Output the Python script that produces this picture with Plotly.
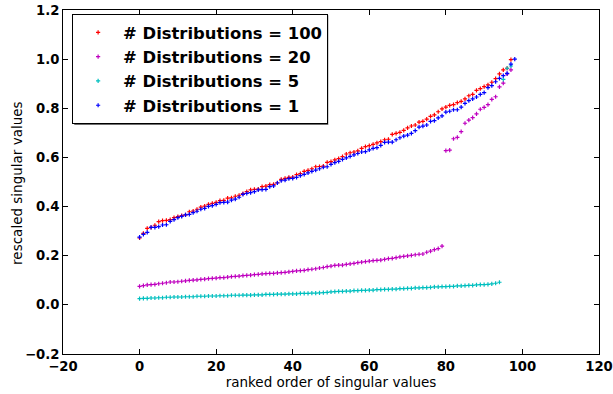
import plotly.graph_objects as go

labels = ["# Distributions = 100", "# Distributions = 20", "# Distributions = 5", "# Distributions = 1"]
colors = ["#ff0000", "#bf00bf", "#00bfbf", "#0000ff"]

red = [0.272, 0.291, 0.311, 0.315, 0.324, 0.339, 0.343, 0.344, 0.347, 0.355,
       0.359, 0.363, 0.366, 0.379, 0.382, 0.389, 0.398, 0.402, 0.409, 0.413,
       0.417, 0.424, 0.425, 0.434, 0.435, 0.442, 0.446, 0.453, 0.461, 0.468,
       0.470, 0.471, 0.481, 0.483, 0.489, 0.490, 0.497, 0.511, 0.515, 0.519,
       0.520, 0.530, 0.534, 0.543, 0.547, 0.554, 0.562, 0.563, 0.565, 0.580,
       0.583, 0.590, 0.595, 0.603, 0.614, 0.619, 0.622, 0.627, 0.637, 0.644,
       0.648, 0.653, 0.659, 0.664, 0.672, 0.674, 0.694, 0.698, 0.702, 0.710,
       0.720, 0.728, 0.732, 0.744, 0.747, 0.756, 0.767, 0.773, 0.786, 0.798,
       0.805, 0.812, 0.815, 0.823, 0.828, 0.838, 0.851, 0.857, 0.873, 0.880,
       0.888, 0.895, 0.906, 0.921, 0.940, 0.956, 0.963, 0.998]

magenta = [0.075, 0.078, 0.081, 0.082, 0.083, 0.086, 0.088, 0.090, 0.093, 0.093,
           0.094, 0.096, 0.098, 0.100, 0.101, 0.102, 0.104, 0.105, 0.107, 0.108,
           0.109, 0.111, 0.111, 0.113, 0.115, 0.116, 0.117, 0.119, 0.120, 0.121,
           0.123, 0.124, 0.126, 0.127, 0.128, 0.128, 0.130, 0.131, 0.132, 0.134,
           0.136, 0.138, 0.139, 0.140, 0.143, 0.145, 0.147, 0.150, 0.152, 0.156,
           0.158, 0.161, 0.162, 0.162, 0.165, 0.167, 0.169, 0.172, 0.174, 0.176,
           0.178, 0.180, 0.181, 0.182, 0.185, 0.188, 0.189, 0.192, 0.195, 0.197,
           0.199, 0.201, 0.204, 0.206, 0.207, 0.214, 0.219, 0.225, 0.229, 0.239,
           0.628, 0.630, 0.676, 0.682, 0.705, 0.739, 0.752, 0.762, 0.777, 0.796,
           0.804, 0.815, 0.836, 0.847, 0.887, 0.902, 0.940, 0.956]

cyan = [0.025, 0.026, 0.026, 0.028, 0.028, 0.029, 0.029, 0.031, 0.031, 0.032,
        0.032, 0.032, 0.033, 0.033, 0.033, 0.035, 0.035, 0.035, 0.036, 0.036,
        0.036, 0.037, 0.037, 0.037, 0.039, 0.039, 0.039, 0.040, 0.040, 0.040,
        0.041, 0.041, 0.041, 0.043, 0.043, 0.043, 0.044, 0.044, 0.044, 0.045,
        0.045, 0.045, 0.047, 0.047, 0.047, 0.048, 0.048, 0.049, 0.050, 0.051,
        0.053, 0.054, 0.055, 0.055, 0.056, 0.056, 0.058, 0.058, 0.059, 0.059,
        0.060, 0.060, 0.062, 0.062, 0.063, 0.063, 0.064, 0.064, 0.066, 0.066,
        0.067, 0.067, 0.069, 0.069, 0.070, 0.070, 0.071, 0.073, 0.073, 0.074,
        0.074, 0.075, 0.075, 0.077, 0.077, 0.078, 0.079, 0.079, 0.081, 0.082,
        0.082, 0.083, 0.085, 0.088, 0.092, 0.918, 0.963, 0.972]

blue = [0.276, 0.287, 0.295, 0.315, 0.315, 0.318, 0.325, 0.326, 0.340, 0.347,
        0.355, 0.360, 0.366, 0.368, 0.375, 0.381, 0.389, 0.393, 0.401, 0.404,
        0.409, 0.416, 0.417, 0.418, 0.426, 0.430, 0.438, 0.450, 0.454, 0.457,
        0.461, 0.468, 0.469, 0.470, 0.481, 0.484, 0.496, 0.505, 0.508, 0.514,
        0.515, 0.519, 0.526, 0.531, 0.537, 0.543, 0.548, 0.554, 0.560, 0.562,
        0.572, 0.579, 0.584, 0.592, 0.598, 0.604, 0.610, 0.616, 0.622, 0.624,
        0.631, 0.637, 0.640, 0.649, 0.661, 0.662, 0.662, 0.672, 0.680, 0.687,
        0.691, 0.698, 0.709, 0.723, 0.727, 0.732, 0.747, 0.750, 0.761, 0.769,
        0.784, 0.788, 0.794, 0.794, 0.805, 0.820, 0.831, 0.838, 0.846, 0.857,
        0.864, 0.884, 0.892, 0.908, 0.922, 0.933, 0.942, 0.980, 1.000]

x_ticks = [-20, 0, 20, 40, 60, 80, 100, 120]
y_ticks = [-0.2, 0.0, 0.2, 0.4, 0.6, 0.8, 1.0, 1.2]
x_title = "ranked order of singular values"
y_title = "rescaled singular values"

series = [red, magenta, cyan, blue]

fig = go.Figure()
for name, col, vals in zip(labels, colors, series):
    fig.add_trace(go.Scatter(
        x=list(range(len(vals))), y=vals, mode="markers", name=name,
        marker=dict(symbol="cross-thin", size=3, color=col,
                    line=dict(color=col, width=1.2)),
    ))

font_family = "DejaVu Sans"
axis_common = dict(
    showgrid=False, zeroline=False, showline=True, linecolor="black", linewidth=1,
    mirror="ticks", ticks="inside", ticklen=5, tickcolor="black", tickwidth=1,
    automargin=False, ticklabeloverflow="allow",
    tickfont=dict(family=font_family, size=13.2, color="black", weight="bold"),
)

fig.update_layout(
    width=613, height=394,
    margin=dict(l=63, r=14, t=10, b=40),
    paper_bgcolor="white", plot_bgcolor="white",
    xaxis=dict(range=[-20.0001, 120.0001], tickvals=x_ticks,
               ticktext=[("\u2212" + str(-v)) if v < 0 else str(v) for v in x_ticks],
               title=dict(text=x_title,
                          font=dict(family=font_family, size=13.5, color="black"), standoff=2),
               **axis_common),
    yaxis=dict(range=[-0.2, 1.2], tickvals=y_ticks,
               ticktext=[("\u2212%.1f" % -v) if v < 0 else "%.1f" % v for v in y_ticks],
               **axis_common),
    annotations=[dict(text=y_title, xref="paper", yref="paper", x=-0.0855, y=0.495,
                      xanchor="center", yanchor="middle", textangle=-90, showarrow=False,
                      font=dict(family=font_family, size=13.5, color="black"))],
    shapes=[dict(type="rect", xref="paper", yref="paper", x0=0.0210, x1=0.4950,
                 y0=0.6660, y1=0.9850, line=dict(width=0), fillcolor="#6e6e6e", layer="above")],
    legend=dict(x=0.017, y=0.988, xanchor="left", yanchor="top",
                bgcolor="white", bordercolor="black", borderwidth=1,
                font=dict(family=font_family, size=16.4, color="black", weight="bold"),
                itemwidth=40, tracegroupgap=0),
    showlegend=True,
)

fig.write_html("out.html", config={"displayModeBar": False},
               post_script="document.body.style.margin='0';")
